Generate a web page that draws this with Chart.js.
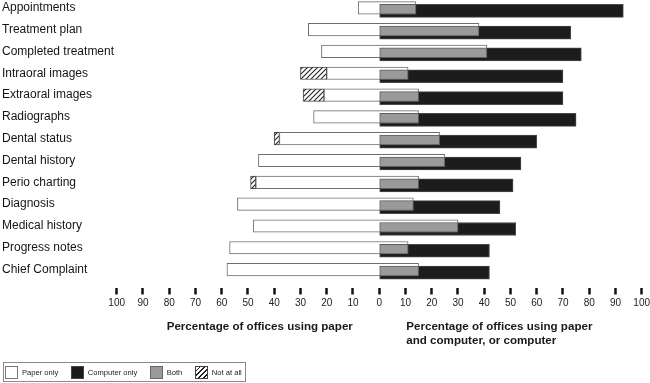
<!DOCTYPE html>
<html><head><meta charset="utf-8">
<script src="https://cdn.jsdelivr.net/npm/chart.js@4.4.1/dist/chart.umd.min.js"></script>
<style>
html,body{margin:0;padding:0;background:#fff;}
#wrap{position:relative;width:650px;height:383px;}
#legend{position:absolute;left:2.5px;top:362px;height:20px;border:1px solid #8a8a8a;box-sizing:border-box;display:flex;align-items:center;padding:0 3px 0 1.5px;font:7.6px 'Liberation Sans',Arial,sans-serif;color:#222;white-space:nowrap;}
.item{display:flex;align-items:center;margin-right:12.5px}
.item:last-child{margin-right:0}
.sw{width:13px;height:13px;box-sizing:border-box;border:1px solid #555;margin-right:4px}
</style></head><body>
<div id="wrap"><canvas id="c" width="650" height="383"></canvas><div id="legend"></div></div>
<script>
// ---- data ----
const categories = ['Appointments','Treatment plan','Completed treatment','Intraoral images','Extraoral images','Radiographs','Dental status','Dental history','Perio charting','Diagnosis','Medical history','Progress notes','Chief Complaint'];
const paperOnly    = [8, 27, 22, 20, 21, 25, 38, 46, 47, 54, 48, 57, 58];
const notAtAll     = [0,  0,  0, 10,  8,  0,  2,  0,  2,  0,  0,  0,  0];
const both         = [14, 38, 41, 11, 15, 15, 23, 25, 15, 13, 30, 11, 15];
const computerOnly = [79, 35, 36, 59, 55, 60, 37, 29, 36, 33, 22, 31, 27];
const xTickValues  = [-100,-90,-80,-70,-60,-50,-40,-30,-20,-10,0,10,20,30,40,50,60,70,80,90,100];
const legendLabels = ['Paper only','Computer only','Both','Not at all'];
const leftTitle  = 'Percentage of offices using paper';
const rightTitle = ['Percentage of offices using paper','and computer, or computer'];

// ---- layout constants (pixels) ----
const ROW_PX = 21.82;
const WHITE_H = 12.5, BLACK_H = 13, BLACK_SHIFT = 3;
const grayTop = BLACK_SHIFT - BLACK_H / 2, grayBottom = WHITE_H / 2;
const GRAY_H = grayBottom - grayTop, GRAY_SHIFT = (grayTop + grayBottom) / 2;
const u = p => p / ROW_PX;
const FONT = "'Liberation Sans', Arial, sans-serif";

const canvas = document.getElementById('c');
function hatchPattern(){
  const s = 5, c = document.createElement('canvas');
  c.width = c.height = s;
  const g = c.getContext('2d');
  g.fillStyle = '#fff'; g.fillRect(0,0,s,s);
  g.strokeStyle = '#222'; g.lineWidth = 1.1;
  g.beginPath();
  g.moveTo(0,s); g.lineTo(s,0);
  g.moveTo(-1,1); g.lineTo(1,-1);
  g.moveTo(s-1,s+1); g.lineTo(s+1,s-1);
  g.stroke();
  return canvas.getContext('2d').createPattern(c,'repeat');
}

const grayData  = categories.map((c,i)=>({y: i + u(GRAY_SHIFT), x: [0, both[i]]}));
const whiteData = categories.map((c,i)=>({y: i, x: [-paperOnly[i], both[i]]}));
const hatchData = categories.map((c,i)=>notAtAll[i] > 0 ? {y: i, x: [-(paperOnly[i]+notAtAll[i]), -paperOnly[i]]} : null).filter(Boolean);
const blackData = categories.map((c,i)=>({y: i + u(BLACK_SHIFT), x: [0, both[i] + computerOnly[i]]}));

const axisTitles = {
  id: 'axisTitles',
  afterDraw(chart){
    const {ctx, scales:{x}, chartArea} = chart;
    ctx.save();
    ctx.font = 'bold 11.6px ' + FONT;
    ctx.fillStyle = '#1a1a1a';
    ctx.textBaseline = 'middle';
    ctx.textAlign = 'center';
    ctx.fillText(leftTitle, x.getPixelForValue(-45.5), chartArea.bottom + 39);
    ctx.textAlign = 'left';
    rightTitle.forEach((t,k)=>ctx.fillText(t, x.getPixelForValue(10.3), chartArea.bottom + 39 + 14*k));
    ctx.restore();
  }
};

const common = {grouped:false, borderWidth:1, borderSkipped:false};
new Chart(canvas, {
  type: 'bar',
  data: {
    datasets: [
      Object.assign({label:'Both', data: grayData, backgroundColor:'#9a9a9a', borderColor:'#5c5c5c', barThickness: GRAY_H, order:0}, common),
      Object.assign({label:'Paper only', data: whiteData, backgroundColor:'#ffffff', borderColor:'#6e6e6e', barThickness: WHITE_H, order:1}, common),
      Object.assign({label:'Not at all', data: hatchData, backgroundColor: hatchPattern(), borderColor:'#444', barThickness: WHITE_H, order:1}, common),
      Object.assign({label:'Computer only', data: blackData, backgroundColor:'#1c1c1c', borderColor:'#4a4a4a', barThickness: BLACK_H, order:2}, common)
    ]
  },
  options: {
    indexAxis: 'y',
    responsive: false,
    animation: false,
    layout: {padding: {left: 2, right: 8.3, top: 0, bottom: 0}},
    plugins: {legend: {display:false}, tooltip: {enabled:false}},
    scales: {
      y: {
        type: 'linear', reverse: true, offset: false,
        min: -7.8 / ROW_PX, max: 12 + (288 - 269.6) / ROW_PX,
        grid: {display:false, offset:false}, border: {display:false},
        afterBuildTicks: s => { s.ticks = categories.map((c,i)=>({value:i})); },
        ticks: {
          autoSkip:false, crossAlign:'far', padding:0,
          font:{family:FONT, size:12}, color:'#151515',
          callback: v => categories[v] ?? ''
        },
        afterFit: s => { s.width = 114.7; s.paddingTop = 0; s.paddingBottom = 0; }
      },
      x: {
        type: 'linear', min: -100, max: 100,
        border: {display:false},
        grid: {display:true, drawOnChartArea:false, drawTicks:true, tickLength:6.5, tickWidth:2.5, tickColor:'#111'},
        afterBuildTicks: s => { s.ticks = xTickValues.map(v=>({value:v})); },
        ticks: {
          autoSkip:false, maxRotation:0, padding:3,
          font:{family:FONT, size:10}, color:'#222',
          callback: v => String(Math.abs(v))
        },
        afterFit: s => { s.height = 95; s.paddingLeft = 0; s.paddingRight = 0; }
      }
    }
  },
  plugins: [axisTitles]
});

// ---- legend (HTML) ----
const swatchStyles = [
  'background:#fff;border-color:#777',
  'background:#1c1c1c;border-color:#444',
  'background:#9a9a9a;border-color:#666',
  'background:repeating-linear-gradient(135deg,#fff 0 2.2px,#222 2.2px 3.4px);border-color:#444'
];
const lg = document.getElementById('legend');
legendLabels.forEach((t,k)=>{
  const it = document.createElement('div'); it.className='item';
  const sw = document.createElement('div'); sw.className='sw'; sw.style.cssText = swatchStyles[k];
  const tx = document.createElement('span'); tx.textContent = t;
  it.appendChild(sw); it.appendChild(tx); lg.appendChild(it);
});
</script>
</body></html>
